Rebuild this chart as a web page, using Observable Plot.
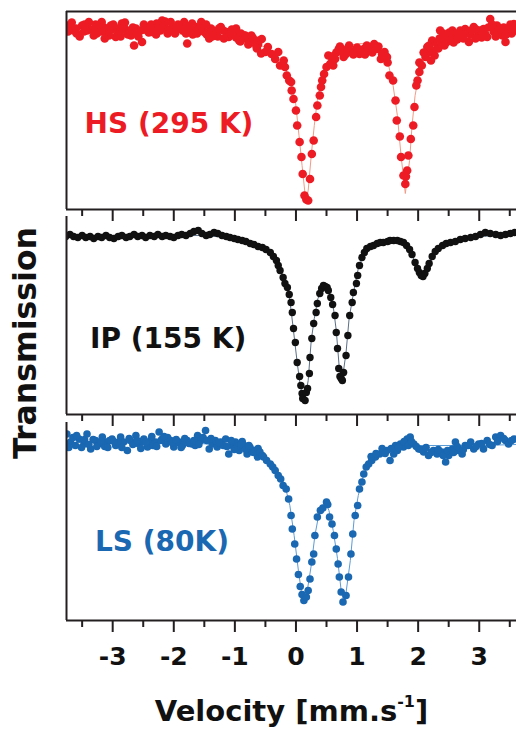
<!DOCTYPE html>
<html><head><meta charset="utf-8">
<script src="https://cdn.jsdelivr.net/npm/d3@7"></script>
<script src="https://cdn.jsdelivr.net/npm/@observablehq/plot@0.6"></script>
<style>
body{margin:0;background:#fff;}
#chart{position:relative;width:516px;height:730px;overflow:hidden;font-family:"DejaVu Sans",sans-serif;font-weight:bold;color:#111;background:#fff;}
.panel{position:absolute;left:0;}
#ylabel{position:absolute;left:25.6px;top:342.5px;transform:translate(-50%,-50%) rotate(-90deg);font-size:31.5px;line-height:1;white-space:nowrap;}
#xlabel{position:absolute;left:291.5px;top:696.5px;transform:translateX(-50%);font-size:29px;line-height:1;white-space:nowrap;}
#xlabel .sup{font-size:0.55em;position:relative;top:-0.85em;}
</style></head><body><div id="chart"></div>
<script>
// ---------- data (velocity mm/s, relative transmission %) ----------
const velocityTicks = [-3, -2, -1, 0, 1, 2, 3];
const minorTicks = [-3.5, -2.5, -1.5, -0.5, 0.5, 1.5, 2.5, 3.5];
const xDomain = [-3.756, 3.61];

const panelLabels = ["HS (295 K)", "IP (155 K)", "LS (80K)"];
const labelVelocity = [-3.46, -3.37, -3.29];
const labelTransmission = [98.19, 97.93, 98.00];

const hsPoints = [
[-3.69,100.13],[-3.59,100.00],[-3.50,100.16],[-3.42,100.06],[-3.39,100.23],[-3.31,99.96],[-3.23,100.10],[-3.18,100.23],[-3.10,100.03],[-3.03,100.16],
[-2.95,99.93],[-2.93,100.10],[-2.85,100.20],[-2.78,100.06],[-2.70,99.96],[-2.65,99.76],[-2.62,100.10],[-2.54,100.06],[-2.52,99.83],[-2.44,100.13],
[-2.36,100.03],[-2.28,100.20],[-2.19,100.26],[-2.13,100.10],[-2.05,100.23],[-1.96,100.06],[-1.88,100.16],[-1.83,100.23],[-1.78,99.80],[-1.72,100.06],
[-1.64,100.13],[-1.55,100.23],[-1.50,100.03],[-1.42,99.90],[-1.39,100.10],[-1.31,100.00],[-1.23,100.13],[-1.14,100.03],[-1.10,99.93],[-1.01,100.06],
[-0.93,99.86],[-0.85,99.96],[-0.77,99.83],[-0.72,99.93],[-0.65,99.76],[-0.57,99.60],
[-3.75,100.16],[-3.64,100.06],[-3.54,99.94],[-3.46,100.18],[-3.34,100.08],[-3.26,100.00],[-3.14,100.12],[-3.06,99.96],[-2.99,100.18],[-2.90,100.02],
[-2.82,100.14],[-2.75,99.98],[-2.67,100.12],[-2.58,99.94],[-2.49,100.18],[-2.41,100.02],[-2.32,100.10],[-2.24,100.14],[-2.16,100.18],[-2.10,100.00],
[-2.01,100.12],[-1.93,100.18],[-1.85,100.06],[-1.75,100.14],[-1.69,99.98],[-1.60,100.08],[-1.52,100.14],[-1.46,99.98],[-1.36,100.06],[-1.28,99.94],
[-1.19,100.06],[-1.11,99.98],[-1.05,100.08],[-0.98,99.92],[-0.90,100.00],[-0.82,99.90],[-0.73,99.96],[-0.69,99.86],[-0.62,99.78],
[-3.73,100.04],[-3.67,100.22],[-3.60,100.10],[-3.47,100.04],[-3.41,100.12],[-3.28,100.18],[-3.19,100.04],[-3.13,99.90],[-3.01,100.08],[-2.87,99.94],
[-2.80,100.22],[-2.72,100.06],[-2.60,100.00],[-2.47,100.08],[-2.37,100.18],[-2.29,99.98],[-2.22,100.06],[-2.14,100.24],[-2.06,100.08],[-1.98,100.00],
[-1.90,100.10],[-1.80,100.00],[-1.70,100.20],[-1.62,100.00],[-1.57,100.10],[-1.47,100.18],[-1.37,99.94],[-1.26,100.10],[-1.18,99.90],[-1.06,100.00],
[-0.98,100.10],[-0.91,99.84],[-0.83,99.96],[-0.78,99.78],[-0.70,99.90],[-0.64,99.70],[-0.60,99.86],
[-0.56,99.89],[-0.50,99.63],[-0.46,99.73],[-0.40,99.59],[-0.34,99.49],[-0.29,99.63],[-0.26,99.36],[-0.20,99.46],[-0.18,99.33],[-0.15,99.16],
[-0.11,99.06],[-0.08,99.03],[-0.07,98.86],[-0.04,98.69],[0.00,98.46],[0.02,98.16],[0.06,97.83],[0.09,97.53],[0.11,97.19],[0.14,96.76],
[0.17,96.68],[0.20,96.66],[0.23,97.09],[0.26,97.59],[0.29,97.86],[0.33,98.33],[0.35,98.56],[0.39,98.76],[0.41,98.93],[0.43,99.06],
[0.46,99.19],[0.50,99.33],[0.53,99.56],[0.56,99.39],[0.61,99.36],[0.64,99.49],[0.70,99.69],[0.75,99.63],[0.78,99.53],[0.84,99.69],
[0.90,99.63],[0.97,99.66],[1.04,99.59],[1.11,99.69],[1.16,99.76],[1.22,99.66],[1.28,99.79],[1.33,99.69],[1.39,99.49],[1.45,99.63],
[1.49,99.53],[0.58,99.54],[0.66,99.62],[0.72,99.74],[0.81,99.58],[0.87,99.76],[0.94,99.58],[1.00,99.72],[1.07,99.62],[1.13,99.58],
[1.18,99.72],[1.25,99.62],[1.35,99.74],[1.41,99.58],[1.50,99.42],
[1.53,99.16],[1.59,99.06],[1.63,98.66],[1.65,98.26],[1.70,97.94],[1.72,97.53],[1.76,97.16],[1.79,96.99],[1.80,97.14],[1.82,97.26],
[1.84,97.56],[1.88,97.89],[1.92,98.16],[1.94,98.53],[1.97,98.96],[1.99,99.06],[2.02,99.23],[2.06,99.36],[2.12,99.53],[2.15,99.73],
[2.21,99.46],[2.25,99.66],[2.31,99.79],[2.36,100.06],[2.39,99.89],[2.47,99.83],[2.53,99.93],[2.61,99.96],[2.69,100.06],[2.77,100.09],
[2.83,99.83],[2.91,100.13],[2.99,99.99],[3.07,100.09],[3.13,99.93],[3.18,100.29],[3.24,100.03],[3.29,100.16],[3.38,99.96],[3.43,99.83],
[3.48,100.09],[3.57,100.19],
[2.17,99.62],[2.23,99.86],[2.33,99.70],[2.41,100.00],[2.50,99.90],[2.56,100.06],[2.64,99.88],[2.72,100.00],[2.86,99.98],[2.95,100.08],
[3.04,99.92],[3.15,100.12],[3.31,100.02],[3.40,100.12],[3.53,100.00],[3.59,100.06],
[2.02,99.42],[2.09,99.62],[2.18,99.76],[2.27,99.56],[2.35,99.90],[2.43,99.76],[2.51,100.02],[2.58,99.82],[2.66,100.00],[2.74,99.90],
[2.81,100.00],[2.87,100.06],[2.94,99.90],[3.02,100.06],[3.10,99.98],[3.21,100.18],[3.27,99.94],[3.35,100.08],[3.44,99.98],[3.51,100.18]
];
const hsFit = [
[-3.77,100.00],[-2.39,100.00],[-1.57,99.98],[-1.08,99.94],[-0.75,99.86],[-0.50,99.72],[-0.34,99.56],[-0.21,99.40],[-0.10,99.10],[-0.01,98.66],
[0.05,97.96],[0.10,97.36],[0.16,96.66],[0.20,96.86],[0.25,97.56],[0.30,98.16],[0.35,98.66],[0.41,99.06],[0.50,99.40],[0.61,99.62],
[0.77,99.74],[1.05,99.80],[1.30,99.78],[1.43,99.66],[1.51,99.40],[1.59,98.96],[1.66,98.36],[1.72,97.56],[1.79,96.80],[1.86,97.46],
[1.90,98.16],[1.95,98.76],[2.02,99.22],[2.10,99.52],[2.23,99.76],[2.45,99.92],[2.77,100.00],[3.61,100.04]
];

const ipPoints = [
[-3.77,99.98],[-3.70,100.02],[-3.64,99.98],[-3.57,99.96],[-3.50,100.00],[-3.44,99.96],[-3.37,99.98],[-3.31,99.94],[-3.24,99.98],[-3.18,99.96],
[-3.11,100.00],[-3.05,99.96],[-2.98,99.94],[-2.91,99.98],[-2.85,100.00],[-2.78,99.96],[-2.72,99.98],[-2.65,100.02],[-2.59,99.98],[-2.52,100.00],
[-2.46,99.96],[-2.39,100.00],[-2.32,99.98],[-2.26,100.02],[-2.19,99.98],[-2.13,100.00],[-2.06,99.98],[-2.00,99.96],[-1.93,100.00],[-1.87,100.02],
[-1.80,100.00],[-1.73,100.04],[-1.67,100.08],[-1.60,100.10],[-1.54,100.04],[-1.47,100.00],[-1.41,100.02],[-1.34,100.06],[-1.28,100.04],[-1.21,100.00],
[-1.14,99.98],[-1.08,99.96],[-1.01,99.94],[-0.95,99.92],[-0.88,99.90],[-0.82,99.88],[-0.75,99.84],[-0.69,99.82],[-0.62,99.78],[-0.55,99.76],
[-0.49,99.72],[-0.42,99.66],[-0.37,99.58],[-0.32,99.50],[-0.29,99.40],[-0.26,99.30],[-0.21,99.16],[-0.18,99.04],[-0.14,98.96],[-0.11,98.82],
[-0.08,98.66],[-0.06,98.46],[-0.04,98.14],[-0.01,97.86],[0.02,97.46],[0.06,97.18],[0.08,97.00],[0.10,96.84],[0.11,96.74],[0.15,96.70],
[0.17,96.86],[0.19,96.94],[0.22,97.24],[0.23,97.56],[0.26,97.94],[0.29,98.24],[0.33,98.46],[0.35,98.64],[0.39,98.84],[0.42,98.94],
[0.45,99.00],[0.48,98.98],[0.51,98.96],[0.53,98.90],[0.57,98.76],[0.60,98.62],[0.64,98.40],[0.66,98.06],[0.68,97.74],[0.70,97.34],
[0.72,97.18],[0.74,97.14],[0.76,97.10],[0.78,97.26],[0.82,97.60],[0.85,98.00],[0.88,98.40],[0.92,98.66],[0.94,98.86],[0.99,99.04],
[1.01,99.20],[1.04,99.40],[1.08,99.56],[1.12,99.66],[1.16,99.74],[1.22,99.78],[1.27,99.80],[1.33,99.84],[1.38,99.86],[1.43,99.86],
[1.50,99.88],[1.54,99.90],[1.60,99.90],[1.66,99.90],[1.71,99.88],[1.76,99.86],[1.81,99.80],[1.86,99.72],[1.90,99.62],[1.95,99.46],
[1.99,99.34],[2.02,99.26],[2.05,99.20],[2.08,99.18],[2.11,99.24],[2.15,99.34],[2.18,99.44],[2.23,99.58],[2.28,99.68],[2.33,99.74],
[2.40,99.80],[2.46,99.84],[2.53,99.86],[2.61,99.88],[2.69,99.92],[2.77,99.94],[2.86,99.96],[2.94,99.98],[3.02,100.02],[3.10,100.06],
[3.18,100.04],[3.27,100.02],[3.35,100.00],[3.43,100.02],[3.51,100.04],[3.58,100.06]
];
const ipFit = [
[-3.77,99.98],[-1.57,100.00],[-1.08,99.96],[-0.75,99.84],[-0.50,99.70],[-0.34,99.52],[-0.21,99.20],[-0.11,98.80],[-0.05,98.20],[0.02,97.46],
[0.07,97.00],[0.12,96.74],[0.15,96.74],[0.20,97.10],[0.25,97.90],[0.30,98.34],[0.36,98.74],[0.43,98.94],[0.48,98.98],[0.54,98.88],
[0.61,98.58],[0.66,98.10],[0.71,97.34],[0.74,97.10],[0.77,97.22],[0.82,97.66],[0.87,98.34],[0.94,98.84],[1.02,99.34],[1.12,99.66],
[1.25,99.80],[1.54,99.88],[1.76,99.86],[1.87,99.70],[1.97,99.40],[2.07,99.16],[2.17,99.36],[2.27,99.66],[2.45,99.82],[2.86,99.96],[3.61,100.04]
];

const lsPoints = [
[-3.75,100.17],[-3.69,100.01],[-3.61,99.94],[-3.55,100.07],[-3.47,99.97],[-3.42,100.17],[-3.36,99.87],[-3.28,100.04],[-3.23,99.97],[-3.17,100.11],
[-3.09,100.01],[-3.01,100.07],[-2.95,99.94],[-2.87,100.11],[-2.82,100.01],[-2.76,99.84],[-2.71,100.04],[-2.62,100.14],[-2.57,99.97],[-2.49,100.07],
[-2.43,99.91],[-2.38,100.04],[-2.30,100.01],[-2.24,100.21],[-2.19,100.07],[-2.13,99.97],[-2.05,100.04],[-2.00,99.91],[-1.91,100.01],[-1.86,99.94],
[-1.78,100.04],[-1.70,99.97],[-1.61,100.14],[-1.56,100.04],[-1.48,100.24],[-1.42,99.87],[-1.37,99.97],[-1.29,99.91],[-1.23,100.01],[-1.15,100.07],
[-1.10,99.77],[-1.04,99.94],[-0.99,100.01],[-0.93,99.84],[-0.85,99.94],[-0.80,99.77],[-0.71,99.81],[-0.63,99.71],
[-3.65,100.10],[-3.51,99.90],[-3.32,100.06],[-3.13,99.92],[-3.05,100.04],[-2.91,100.00],[-2.67,99.96],[-2.52,100.02],[-2.34,99.94],[-2.10,100.10],
[-1.95,100.00],[-1.82,100.08],[-1.65,99.94],[-1.52,100.10],[-1.32,100.04],[-1.19,99.94],[-0.96,99.92],[-0.88,100.02],[-0.75,99.90],[-0.67,99.84],
[-3.72,99.90],[-3.59,100.14],[-3.46,100.06],[-3.39,99.96],[-3.26,99.92],[-3.19,100.02],[-3.08,99.90],[-2.98,100.02],[-2.85,99.90],[-2.73,100.08],
[-2.60,100.04],[-2.54,99.88],[-2.46,100.00],[-2.36,100.12],[-2.28,99.92],[-2.21,100.04],[-2.16,100.12],[-2.03,100.00],[-1.96,100.06],[-1.88,99.90],
[-1.75,99.98],[-1.67,100.04],[-1.59,99.96],[-1.46,100.04],[-1.39,100.08],[-1.26,100.00],[-1.13,99.92],[-1.06,100.04],[-1.01,99.86],[-0.90,99.96],
[-0.82,99.86],[-0.77,99.94],[-0.69,99.80],[-0.62,99.88],
[-0.59,99.81],[-0.55,99.74],[-0.53,99.71],[-0.48,99.64],[-0.42,99.57],[-0.38,99.51],[-0.34,99.44],[-0.29,99.34],[-0.25,99.27],[-0.21,99.14],
[-0.16,99.07],[-0.12,98.87],[-0.08,98.54],[-0.06,98.27],[-0.02,97.97],[0.01,97.67],[0.04,97.36],[0.07,97.12],[0.10,96.96],[0.13,96.84],
[0.17,96.91],[0.20,97.04],[0.23,97.27],[0.26,97.61],[0.29,97.77],[0.31,98.14],[0.35,98.51],[0.40,98.64],[0.44,98.69],[0.50,98.81],
[0.52,98.76],[0.55,98.51],[0.59,98.37],[0.63,98.14],[0.66,97.87],[0.69,97.57],[0.71,97.31],[0.74,97.01],[0.77,96.81],[0.82,96.94],
[0.86,97.31],[0.90,97.77],[0.93,98.17],[0.97,98.54],[1.01,98.74],[1.04,99.07],[1.08,99.21],[1.11,99.37],[1.15,99.51],[1.19,99.57],
[1.24,99.64],[1.30,99.71],[1.37,99.77],[1.43,99.81],[1.49,99.84],[1.54,99.64],[1.60,99.77],[1.63,99.94],[1.66,99.84],[1.71,99.97],
[1.74,99.94],[1.76,99.91],[1.82,100.07],[1.87,100.11],[1.93,99.97],[2.01,99.87],[2.09,99.81],[2.17,99.74],[2.25,99.84],[2.31,99.77],
[2.39,99.81],[2.45,99.61],[2.50,99.74],[2.56,99.87],[2.61,100.01],[2.66,99.84],[2.72,99.77],[2.77,99.94],[2.86,100.01],[2.91,99.87],
[2.99,99.97],[3.07,99.87],[3.13,100.04],[3.21,99.94],[3.27,100.11],[3.35,100.14],[3.43,100.04],[3.48,99.97],[3.57,100.07],
[1.23,99.72],[1.31,99.78],[1.41,99.88],[1.46,99.78],[1.56,99.88],[1.68,99.90],[1.77,100.02],[1.84,99.94],[1.89,100.02],[1.97,99.92],
[2.05,99.86],[2.13,99.90],[2.21,99.80],[2.33,99.86],[2.41,99.74],[2.48,99.84],[2.58,99.80],[2.64,99.92],[2.74,99.86],[2.82,99.94],
[2.95,99.92],[3.04,99.98],[3.17,99.96],[3.30,100.02],[3.40,100.08],[3.53,100.04]
];
const lsFit = [
[-3.77,100.00],[-1.57,99.98],[-0.91,99.92],[-0.59,99.80],[-0.34,99.52],[-0.18,99.14],[-0.10,98.74],[-0.03,98.14],[0.04,97.44],[0.10,96.92],
[0.14,96.84],[0.18,97.00],[0.25,97.54],[0.31,98.14],[0.38,98.60],[0.43,98.74],[0.49,98.78],[0.54,98.64],[0.61,98.24],[0.68,97.68],
[0.74,97.04],[0.78,96.84],[0.82,97.00],[0.89,97.64],[0.95,98.44],[1.02,98.94],[1.09,99.28],[1.18,99.60],[1.35,99.80],[1.58,99.92],
[1.87,99.94],[3.02,99.94],[3.61,99.96]
];

// ---------- drawing ----------
const frameColor = "#231f20";
const panels = [
  {points: hsPoints, fit: hsFit, color: "#ed1c24", fitColor: "#f39a86", r: 4.3, yDomain: [96.48, 100.44], top: 0,   marginBottom: 15, showTop: true,  showLabels: false, i: 0},
  {points: ipPoints, fit: ipFit, color: "#111111", fitColor: "#5a6f86", r: 3.7, yDomain: [96.42, 100.38], top: 205, marginBottom: 15, showTop: false, showLabels: false, i: 1},
  {points: lsPoints, fit: lsFit, color: "#1a67b2", fitColor: "#5b9bd5", r: 3.8, yDomain: [96.44, 100.40], top: 411, marginBottom: 60, showTop: false, showLabels: true,  i: 2}
];

const chart = document.getElementById("chart");
for (const p of panels) {
  const labelData = [{text: panelLabels[p.i], v: labelVelocity[p.i], t: labelTransmission[p.i]}];
  const svg = Plot.plot({
    width: 516,
    height: 11 + 198 + p.marginBottom,
    marginLeft: 66, marginRight: 0, marginTop: 11, marginBottom: p.marginBottom,
    x: {domain: xDomain},
    y: {domain: p.yDomain, axis: null},
    style: {fontFamily: "DejaVu Sans", fontWeight: "bold", background: "transparent", overflow: "visible", color: "#111"},
    marks: [
      Plot.line(p.fit, {x: d => d[0], y: d => d[1], stroke: p.fitColor, strokeWidth: 1, clip: true}),
      Plot.dot(p.points, {x: d => d[0], y: d => d[1], r: p.r, fill: p.color, stroke: "none", clip: true}),
      Plot.text(labelData, {x: "v", y: "t", text: "text", fill: p.color, fontSize: 28, fontWeight: "bold", textAnchor: "start", fontFamily: "DejaVu Sans"}),
      Plot.ruleX([xDomain[0]], {stroke: frameColor, strokeWidth: 2}),
      Plot.ruleY([p.yDomain[0]], {stroke: frameColor, strokeWidth: 2}),
      p.showTop ? Plot.ruleY([p.yDomain[1]], {stroke: frameColor, strokeWidth: 2}) : null,
      Plot.axisX(velocityTicks, {tickSize: 12, tickPadding: 15, strokeWidth: 2, stroke: frameColor, fontSize: 25, fontWeight: "bold", fill: "#111",
        tickFormat: p.showLabels ? (d => String(d)) : (() => ""), label: null}),
      Plot.axisX(minorTicks, {tickSize: 7, strokeWidth: 2, stroke: frameColor, tickFormat: () => "", label: null})
    ]
  });
  svg.classList.add("panel");
  svg.style.top = p.top + "px";
  chart.appendChild(svg);
}

const yl = document.createElement("div");
yl.id = "ylabel";
yl.textContent = "Transmission";
chart.appendChild(yl);

const xl = document.createElement("div");
xl.id = "xlabel";
xl.innerHTML = 'Velocity [mm.s<span class="sup">-1</span>]';
chart.appendChild(xl);
</script>
</body></html>
